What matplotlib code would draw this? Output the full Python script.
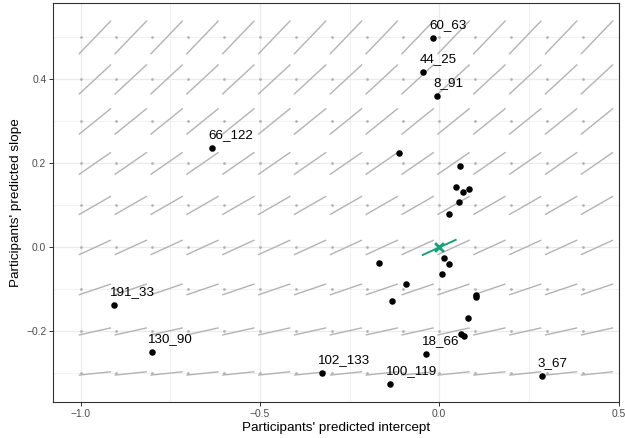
import numpy as np
import matplotlib
matplotlib.use('Agg')
import matplotlib.pyplot as plt

plt.rcParams['font.family'] = ['Liberation Sans', 'DejaVu Sans']

# grid of candidate (intercept, slope) pairs shown as small line glyphs
grid_intercepts = np.round(np.arange(-1.0, 0.41, 0.1), 2)
grid_slopes = np.round(np.arange(-0.3, 0.51, 0.1), 2)

# participants' predicted intercept / slope
intercepts = [-0.017, -0.044, -0.006, -0.633, -0.113, 0.058, 0.048, 0.066,
              0.084, 0.055, 0.027, 0.013, 0.027, 0.008, -0.167, -0.092,
              -0.131, 0.102, 0.102, 0.080, 0.062, 0.068, -0.036, -0.326,
              -0.138, 0.286, -0.802, -0.908]
slopes = [0.498, 0.417, 0.360, 0.236, 0.225, 0.193, 0.144, 0.133,
          0.139, 0.109, 0.079, -0.024, -0.040, -0.064, -0.036, -0.088,
          -0.128, -0.114, -0.119, -0.169, -0.206, -0.210, -0.254, -0.299,
          -0.325, -0.306, -0.250, -0.137]
labels = ['60_63', '44_25', '8_91', '66_122', '', '', '', '',
          '', '', '', '', '', '', '', '',
          '', '', '', '', '', '', '18_66', '102_133',
          '100_119', '3_67', '130_90', '191_33']

true_intercept = 0.0
true_slope = 0.0

# glyph geometry (data units)
glyph_w = 0.09
glyph_shift = 0.04
slope_offset = 0.39

grey = '#b3b3b3'
green = '#1b9e77'

fig = plt.figure(figsize=(6.25, 4.38), dpi=100)
ax = fig.add_axes([0.0853, 0.0822, 0.9043, 0.911])

for b in grid_slopes:
    for a in grid_intercepts:
        cx = a + glyph_shift
        h = glyph_w / 2 * (b + slope_offset)
        ax.plot([cx - glyph_w / 2, cx + glyph_w / 2], [b - h, b + h],
                color=grey, lw=1.0, zorder=2, solid_capstyle='butt')
gx, gy = np.meshgrid(grid_intercepts, grid_slopes)
ax.scatter(gx.ravel(), gy.ravel(), s=4, color=grey, lw=0, zorder=2)

# true parameters
h = 0.046 * (true_slope + slope_offset)
ax.plot([true_intercept - 0.046, true_intercept + 0.046],
        [true_slope - h, true_slope + h], color=green, lw=1.4, zorder=4)
ax.scatter([true_intercept], [true_slope], marker='x', s=40, color=green,
           lw=2.0, zorder=5)

ax.scatter(intercepts, slopes, s=22, color='black', lw=0, zorder=6)
for x, y, lab in zip(intercepts, slopes, labels):
    if lab:
        ax.annotate(lab, (x, y), xytext=(-4, 7), textcoords='offset pixels',
                    ha='left', va='bottom', fontsize=9.6, color='black',
                    zorder=7)

ax.set_xlim(-1.076, 0.5)
ax.set_ylim(-0.368, 0.582)
ax.set_xticks([-1.0, -0.5, 0.0, 0.5])
ax.set_xticks([-0.75, -0.25, 0.25], minor=True)
ax.set_yticks([-0.2, 0.0, 0.2, 0.4])
ax.set_yticks([-0.3, -0.1, 0.1, 0.3, 0.5], minor=True)
ax.set_xticklabels(['\u22121.0', '\u22120.5', '0.0', '0.5'])
ax.set_yticklabels(['\u22120.2', '0.0', '0.2', '0.4'])
ax.grid(which='major', color='#ebebeb', lw=0.9, zorder=0)
ax.grid(which='minor', color='#ebebeb', lw=0.5, zorder=0)
ax.set_axisbelow(True)
ax.tick_params(which='major', length=3, width=0.7, color='#333333',
               labelsize=7.4, labelcolor='#4d4d4d', pad=2)
ax.tick_params(which='minor', length=0)
for s in ax.spines.values():
    s.set_color('#333333')
    s.set_linewidth(0.8)

ax.set_xlabel("Participants' predicted intercept", fontsize=9.7, labelpad=2)
ax.set_ylabel("Participants' predicted slope", fontsize=9.7, labelpad=3)

fig.savefig('out.png', dpi=100)
